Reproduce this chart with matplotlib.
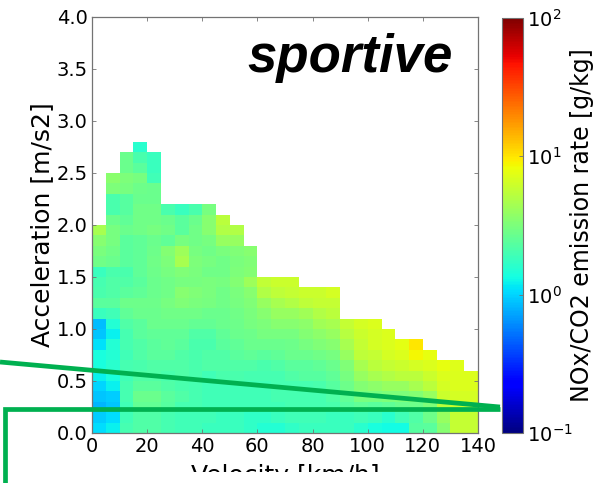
import numpy as np
import matplotlib
matplotlib.use('Agg')
import matplotlib.pyplot as plt
from matplotlib.colors import LogNorm
from matplotlib.lines import Line2D
from matplotlib.transforms import Bbox

nan = np.nan

velocity_edges = np.arange(0, 145, 5)      # km/h, 28 bins
accel_edges = np.linspace(0, 2.8, 29)       # m/s2, 28 bins

# NOx/CO2 emission rate [g/kg], one row per acceleration bin, top row (2.7-2.8) first
rate_rows = [
    [nan, nan, nan, 1.6],
    [nan, nan, 2.7, 2.1, 1.8],
    [nan, nan, 2.7, 2.4, 1.8],
    [nan, 3.6, 3.2, 3.0, 1.9],
    [nan, 3.2, 3.0, 2.8, 2.7],
    [nan, 2.1, 2.3, 2.7, 2.7],
    [nan, 2.1, 2.3, 2.9, 2.9, 2.1, 1.8, 2.1, 3.0],
    [nan, 2.7, 2.5, 2.9, 2.9, 2.7, 2.4, 2.7, 3.5, 5.3],
    [4.5, 3.0, 2.7, 2.9, 3.0, 2.9, 2.4, 2.9, 3.5, 5.0, 5.0],
    [3.5, 3.0, 2.4, 2.5, 2.7, 2.5, 3.0, 2.9, 3.0, 4.0, 4.0],
    [3.1, 2.9, 2.4, 2.5, 2.8, 3.4, 4.2, 3.0, 2.9, 3.1, 3.3, 3.5],
    [2.9, 2.7, 2.4, 2.5, 2.9, 3.2, 4.6, 3.2, 3.0, 2.9, 3.1, 3.3],
    [1.8, 2.1, 2.1, 2.5, 2.8, 3.0, 3.3, 3.1, 2.9, 2.9, 3.2, 3.4],
    [2.0, 2.2, 2.2, 2.4, 2.7, 2.9, 3.0, 3.0, 3.1, 3.0, 3.4, 4.2, 5.6, 6.2, 6.2],
    [2.1, 2.2, 2.4, 2.5, 2.7, 2.9, 3.5, 3.3, 3.1, 2.9, 3.1, 3.5, 5.0, 5.5, 5.8, 6.2, 6.2, 6.6],
    [2.4, 2.4, 2.8, 2.8, 2.8, 3.0, 3.3, 3.1, 3.0, 2.9, 3.0, 3.3, 4.0, 4.6, 5.0, 5.5, 5.8, 5.8],
    [1.8, 1.9, 2.5, 2.7, 2.7, 2.9, 2.9, 2.9, 2.7, 2.7, 2.9, 3.1, 3.5, 4.0, 4.0, 4.3, 5.0, 5.4],
    [0.85, 1.5, 2.2, 2.4, 2.7, 2.7, 2.7, 2.6, 2.6, 2.7, 2.8, 3.0, 3.2, 3.5, 3.5, 3.7, 4.3, 4.6,
     5.8, 6.6, 7.0],
    [0.9, 1.2, 2.0, 2.4, 2.5, 2.5, 2.5, 2.2, 2.2, 2.5, 2.7, 2.8, 3.0, 3.0, 3.0, 3.4, 3.7, 4.0,
     5.2, 6.2, 6.6, 7.0],
    [1.1, 1.5, 2.0, 2.2, 2.4, 2.5, 2.4, 2.1, 2.1, 2.4, 2.5, 2.7, 2.7, 2.7, 2.8, 3.0, 3.3, 3.5,
     4.5, 5.8, 6.6, 7.0, 7.6, 10.0],
    [1.4, 1.5, 1.9, 2.2, 2.4, 2.4, 2.2, 2.1, 2.2, 2.2, 2.4, 2.5, 2.4, 2.5, 2.7, 2.7, 2.9, 3.0,
     4.0, 5.5, 5.8, 6.6, 7.0, 8.6, 7.8],
    [1.4, 1.6, 2.0, 2.1, 2.2, 2.2, 2.2, 2.1, 2.2, 2.2, 2.2, 2.2, 2.1, 2.2, 2.4, 2.4, 2.5, 2.7,
     3.3, 4.6, 5.4, 5.8, 6.2, 6.6, 7.0, 7.8, 7.2],
    [1.2, 1.4, 1.9, 2.2, 2.2, 2.1, 2.2, 2.1, 1.9, 2.1, 2.1, 2.0, 2.0, 2.0, 2.2, 2.3, 2.3, 2.5,
     3.0, 4.0, 4.6, 5.0, 5.4, 5.4, 6.2, 7.0, 7.0, 7.0],
    [1.0, 1.2, 2.0, 2.4, 2.4, 2.2, 2.1, 2.0, 1.9, 1.9, 1.9, 1.9, 1.9, 2.0, 2.0, 2.0, 2.1, 2.3,
     2.8, 3.4, 3.7, 4.0, 4.0, 4.6, 5.4, 6.6, 7.0, 7.0],
    [0.9, 0.95, 2.0, 2.7, 2.7, 2.4, 2.2, 2.0, 1.9, 1.9, 1.9, 1.9, 1.9, 2.0, 2.0, 2.0, 2.0, 2.2,
     2.5, 3.0, 3.0, 3.2, 3.2, 3.4, 4.0, 6.2, 6.6, 6.6],
    [0.8, 0.9, 1.9, 2.6, 2.6, 2.3, 2.0, 2.0, 1.9, 1.9, 1.9, 1.9, 1.9, 1.9, 2.0, 2.0, 2.0, 2.1,
     2.3, 2.5, 2.4, 2.5, 2.7, 2.8, 3.2, 5.4, 6.2, 6.2],
    [0.95, 1.05, 1.9, 2.2, 2.2, 2.0, 1.9, 1.9, 1.9, 1.8, 1.8, 1.7, 1.7, 1.8, 1.9, 1.9, 1.9, 1.8,
     1.8, 1.9, 1.8, 1.6, 1.9, 2.2, 2.8, 4.0, 5.8, 5.8],
    [1.05, 1.2, 2.0, 2.2, 2.2, 2.0, 1.9, 1.9, 1.8, 1.8, 1.8, 1.7, 1.5, 1.5, 1.7, 1.8, 1.8, 1.8,
     1.8, 1.6, 1.4, 1.3, 1.3, 2.3, 2.4, 3.5, 5.8, 5.8],
]

n_v = len(velocity_edges) - 1
grid = np.array([r + [nan] * (n_v - len(r)) for r in rate_rows])[::-1]
grid = np.ma.masked_invalid(grid)

W, H = 606, 483
fig = plt.figure(figsize=(W / 100, H / 100), dpi=100)
ax = fig.add_axes([92 / W, 1 - 433 / H, 386 / W, 416 / H])
cax = fig.add_axes([502 / W, 1 - 433 / H, 21 / W, 415 / H])

mesh = ax.pcolormesh(velocity_edges, accel_edges, grid, cmap='jet',
                     norm=LogNorm(vmin=0.1, vmax=100))
ax.set_xlim(0, 140)
ax.set_ylim(0, 4.0)
ax.set_xticks(np.arange(0, 141, 20))
ax.set_yticks(np.arange(0, 4.01, 0.5))
ax.yaxis.set_major_formatter(plt.FormatStrFormatter('%.1f'))
ax.tick_params(direction='in', length=3, width=0.6, color='0.45', labelsize=14,
               top=True, right=True, pad=3)
for s in ax.spines.values():
    s.set_color('0.45')
    s.set_linewidth(0.9)

ax.set_ylabel('Acceleration [m/s2]', fontsize=18, labelpad=2)
xl = ax.set_xlabel('Velocity [km/h]', fontsize=18, labelpad=5.5)
# the original picture is cropped through the x label
xl.set_clip_box(Bbox.from_extents(0, 11, W, H))
xl.set_clip_on(True)
ax.text(0.935, 0.868, 'sportive', transform=ax.transAxes, ha='right', va='baseline',
        fontsize=38, fontweight='bold', fontstyle='italic', family='Liberation Sans')

cb = fig.colorbar(mesh, cax=cax)
cb.minorticks_off()
cb.set_ticks([0.1, 1, 10, 100])
cb.ax.tick_params(direction='in', length=3, width=0.6, color='0.45', labelsize=14, pad=3)
cb.outline.set_edgecolor('0.45')
cb.set_label('NOx/CO2 emission rate [g/kg]', fontsize=17, labelpad=-2)

# green annotation lines drawn over the figure (pixel coordinates)
green = '#00b050'
def px(x, y):
    return x / W, 1 - y / H
l1 = Line2D(*zip(px(0, 362), px(500, 407)), transform=fig.transFigure,
            color=green, lw=3.4, solid_capstyle='butt')
l2 = Line2D(*zip(px(4.5, 483), px(4.5, 408.5), px(500, 408.5)), transform=fig.transFigure,
            color=green, lw=3.4, solid_capstyle='butt', solid_joinstyle='miter')
fig.add_artist(l1)
fig.add_artist(l2)

fig.savefig('out.png', dpi=100)
